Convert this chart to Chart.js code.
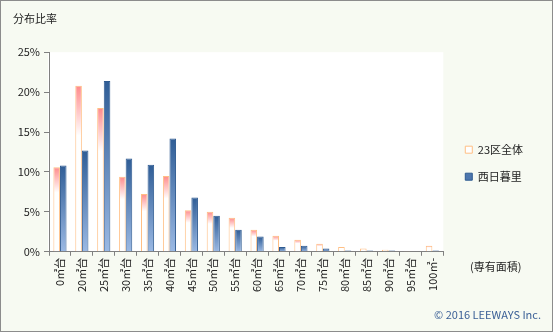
<!DOCTYPE html>
<html lang="ja">
<head>
<meta charset="UTF-8">
<title>分布比率</title>
<script src="https://cdn.jsdelivr.net/npm/chart.js"></script>
<style>
  html, body { margin: 0; padding: 0; background: #f7faf2; }
  #wrap { width: 553px; height: 332px; }
</style>
</head>
<body>
<div id="wrap"><canvas id="areaChart" width="553" height="332"></canvas></div>
<script>
// 専有面積帯ごとの分布比率 (%)
const categories = ['0㎡台', '20㎡台', '25㎡台', '30㎡台', '35㎡台', '40㎡台', '45㎡台', '50㎡台', '55㎡台',
  '60㎡台', '65㎡台', '70㎡台', '75㎡台', '80㎡台', '85㎡台', '90㎡台', '95㎡台', '100㎡-'];
const wardAll = [10.6, 20.8, 18.0, 9.4, 7.25, 9.5, 5.2, 5.0, 4.25,
  2.75, 2.0, 1.5, 1.0, 0.6, 0.4, 0.25, 0.1, 0.75];
const nishiNippori = [10.8, 12.7, 21.4, 11.7, 10.9, 14.2, 6.8, 4.5, 2.75,
  1.9, 0.6, 0.75, 0.4, 0.15, 0.15, 0.15, 0, 0.15];
const yTicks = [0, 5, 10, 15, 20, 25];

const FONT = '"Noto Sans CJK JP", "Noto Sans", sans-serif';
// 凡例の四角の塗り
const legendFill = ['#ffffff', '#4d76ae'];

// グラデーション塗り（棒ごとに上端〜基準線で作る）
function gradFill(stops, fallback) {
  return ctx => {
    const chart = ctx.chart;
    const y = chart.scales.y;
    if (ctx.type !== 'data' || !y) return fallback;
    const top = y.getPixelForValue(ctx.raw);
    const base = y.getPixelForValue(0);
    if (!(base - top > 0)) return fallback;
    const g = chart.ctx.createLinearGradient(0, top, 0, base);
    stops.forEach(s => g.addColorStop(s[0], s[1]));
    return g;
  };
}

const frame = {
  id: 'frame',
  beforeDraw(chart) {
    const { ctx, chartArea: a, width, height } = chart;
    ctx.save();
    ctx.fillStyle = '#f7faf2';
    ctx.fillRect(0, 0, width, height);
    ctx.fillStyle = '#ffffff';
    ctx.fillRect(a.left - 1, a.top, a.right - a.left + 1, a.bottom - a.top);
    ctx.restore();
  },
  afterDraw(chart) {
    const { ctx, width, height } = chart;
    ctx.save();
    ctx.font = '11px ' + FONT;
    ctx.fillStyle = '#222';
    ctx.textBaseline = 'middle';
    ctx.fillText('(専有面積)', 470, 267);
    ctx.fillStyle = '#3a5f96';
    ctx.textAlign = 'right';
    ctx.fillText('© 2016 LEEWAYS Inc.', 541, 315);
    ctx.strokeStyle = '#8c8c8c';
    ctx.lineWidth = 1;
    ctx.strokeRect(0.5, 0.5, width - 1, height - 1);
    ctx.restore();
  }
};

new Chart(document.getElementById('areaChart'), {
  type: 'bar',
  data: {
    labels: categories,
    datasets: [{
      label: '23区全体',
      data: wardAll,
      backgroundColor: gradFill([[0, '#ff8a8a'], [0.3, '#ffffff'], [1, '#ffffff']], '#ffffff'),
      borderColor: '#ffbf84',
      borderWidth: 1,
      categoryPercentage: 0.6,
      barPercentage: 1.0
    }, {
      label: '西日暮里',
      data: nishiNippori,
      backgroundColor: gradFill([[0, '#2f5d96'], [1, '#9bb9e4']], '#5a82b8'),
      borderColor: '#2e5a90',
      borderWidth: 1,
      categoryPercentage: 0.6,
      barPercentage: 1.0
    }]
  },
  options: {
    responsive: false,
    animation: false,
    layout: { padding: { left: 13, right: 20, top: 0, bottom: 38 } },
    plugins: {
      title: {
        display: true,
        text: '分布比率',
        align: 'start',
        color: '#222',
        font: { family: FONT, size: 11, weight: 'normal' },
        padding: { top: 12, bottom: 27 }
      },
      legend: {
        position: 'right',
        fullSize: false,
        title: { display: true, text: '', padding: 4 },
        labels: {
          boxWidth: 7,
          boxHeight: 7,
          padding: 16,
          color: '#222',
          font: { family: FONT, size: 11 },
          generateLabels: chart => Chart.defaults.plugins.legend.labels.generateLabels(chart)
            .map((item, i) => Object.assign(item, { fillStyle: legendFill[i] }))
        }
      },
      tooltip: { enabled: false }
    },
    scales: {
      x: {
        grid: { display: true, drawOnChartArea: false, color: '#808080', tickLength: 4, offset: true },
        border: { color: '#808080' },
        ticks: { minRotation: 90, maxRotation: 90, color: '#222', font: { family: FONT, size: 11 }, padding: 2 }
      },
      y: {
        min: 0,
        max: 25,
        afterBuildTicks: axis => { axis.ticks = yTicks.map(v => ({ value: v })); },
        afterFit: axis => { axis.width = 36; },
        grid: { display: true, drawOnChartArea: false, color: '#808080', tickLength: 5 },
        border: { color: '#808080' },
        ticks: { color: '#222', font: { family: FONT, size: 11 }, padding: 4, callback: v => v + '%' }
      },
      // 凡例との間隔をあけるだけの空の軸
      gap: {
        type: 'linear',
        position: 'right',
        afterFit: axis => { axis.width = 6; },
        grid: { display: false },
        border: { display: false },
        ticks: { display: false }
      }
    }
  },
  plugins: [frame]
});
</script>
</body>
</html>
